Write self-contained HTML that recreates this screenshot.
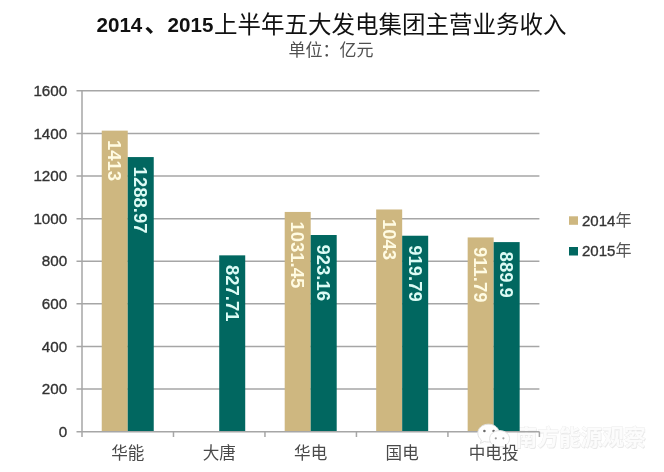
<!DOCTYPE html>
<html><head><meta charset="utf-8">
<style>
html,body{margin:0;padding:0;background:#fff;}
body{width:664px;height:472px;overflow:hidden;position:relative;}
svg{position:absolute;left:0;top:0;filter:blur(0.5px);}
.num{font-family:"Liberation Sans",sans-serif;}
.cjk{font-family:"Liberation Sans","Noto Sans CJK SC",sans-serif;}
</style></head>
<body>
<svg width="664" height="472" viewBox="0 0 664 472">
  <!-- title -->
  <text x="96.5" y="32.4" class="num" font-weight="bold" font-size="20.6" fill="#111">2014</text>
  <text x="144.5" y="32.4" class="cjk" font-size="23.5" font-weight="bold" fill="#111">、</text>
  <text x="167.6" y="32.4" class="num" font-weight="bold" font-size="20.6" fill="#111">2015</text>
  <text x="214" y="32.5" class="cjk" font-size="23.5" font-weight="400" fill="#111">上半年五大发电集团主营业务收入</text>
  <text x="288.5" y="55.8" class="cjk" font-size="17" fill="#505050">单位：亿元</text>

  <!-- gridlines -->
  <g stroke="#a6a6a6" stroke-width="1.5">
    <line x1="76.5" y1="90.8" x2="539.4" y2="90.8"/>
    <line x1="76.5" y1="133.41" x2="539.4" y2="133.41"/>
    <line x1="76.5" y1="176.03" x2="539.4" y2="176.03"/>
    <line x1="76.5" y1="218.64" x2="539.4" y2="218.64"/>
    <line x1="76.5" y1="261.25" x2="539.4" y2="261.25"/>
    <line x1="76.5" y1="303.86" x2="539.4" y2="303.86"/>
    <line x1="76.5" y1="346.48" x2="539.4" y2="346.48"/>
    <line x1="76.5" y1="389.09" x2="539.4" y2="389.09"/>
  </g>

  <g class="cjk" font-size="21.7" font-weight="bold" opacity="0.85">
    <text x="516.2" y="445.6" fill="#e4e4e4">南方能源观察</text>
    <text x="515.5" y="445" fill="#fcfcfc" stroke="#e8e8e8" stroke-width="0.8" paint-order="stroke">南方能源观察</text>
  </g>
  <!-- bars -->
  <g fill="#ceb780">
    <rect x="101.74" y="130.64" width="26" height="301.06"/>
    <rect x="284.7" y="211.94" width="26" height="219.76"/>
    <rect x="376.18" y="209.48" width="26" height="222.22"/>
    <rect x="467.66" y="237.43" width="26" height="194.27"/>
  </g>
  <g fill="#016760">
    <rect x="127.74" y="157.07" width="26" height="274.63"/>
    <rect x="219.22" y="255.35" width="26" height="176.35"/>
    <rect x="310.7" y="235.01" width="26" height="196.69"/>
    <rect x="402.18" y="235.73" width="26" height="195.97"/>
    <rect x="493.66" y="242.10" width="26" height="189.6"/>
  </g>

  <!-- axes -->
  <g stroke="#a6a6a6" stroke-width="1.5">
    <line x1="76.5" y1="431.7" x2="539.4" y2="431.7"/>
    <line x1="82" y1="90.8" x2="82" y2="437"/>
    <line x1="173.48" y1="431.7" x2="173.48" y2="437"/>
    <line x1="264.96" y1="431.7" x2="264.96" y2="437"/>
    <line x1="356.44" y1="431.7" x2="356.44" y2="437"/>
    <line x1="447.92" y1="431.7" x2="447.92" y2="437"/>
    <line x1="539.4" y1="431.7" x2="539.4" y2="437"/>
  </g>

  <!-- y labels -->
  <g class="num" font-size="15.2" fill="#333" stroke="#333" stroke-width="0.35" text-anchor="end">
    <text x="67.2" y="96">1600</text>
    <text x="67.2" y="138.6">1400</text>
    <text x="67.2" y="181.2">1200</text>
    <text x="67.2" y="223.8">1000</text>
    <text x="67.2" y="266.4">800</text>
    <text x="67.2" y="309">600</text>
    <text x="67.2" y="351.7">400</text>
    <text x="67.2" y="394.3">200</text>
    <text x="67.2" y="436.9">0</text>
  </g>

  <!-- bar labels -->
  <g class="num" font-weight="bold" font-size="18.5">
    <g fill="#fffbe2">
      <text transform="translate(108.3,140) rotate(90)">1413</text>
      <text transform="translate(291.3,221.4) rotate(90)">1031.45</text>
      <text transform="translate(382.7,219) rotate(90)">1043</text>
      <text transform="translate(474.2,247) rotate(90)">911.79</text>
    </g>
    <g fill="#dcfbf5">
      <text transform="translate(134.3,166.6) rotate(90)">1288.97</text>
      <text transform="translate(225.8,264.9) rotate(90)">827.71</text>
      <text transform="translate(317.2,244.5) rotate(90)">923.16</text>
      <text transform="translate(408.7,245.2) rotate(90)">919.79</text>
      <text transform="translate(500.2,251.6) rotate(90)">889.9</text>
    </g>
  </g>

  <!-- legend -->
  <rect x="569" y="216.3" width="9" height="8.5" fill="#ceb780"/>
  <rect x="569" y="247" width="9" height="8.5" fill="#016760"/>
  <g font-size="15" fill="#333">
    <text x="582" y="225.5"><tspan class="num" stroke="#333" stroke-width="0.35">2014</tspan><tspan class="cjk" font-size="16" fill="#555">年</tspan></text>
    <text x="582" y="256"><tspan class="num" stroke="#333" stroke-width="0.35">2015</tspan><tspan class="cjk" font-size="16" fill="#555">年</tspan></text>
  </g>

  <!-- watermark -->
  <g>
    <path d="M488.5,424.2 C482.3,424.2 477.8,428.2 477.8,433.2 C477.8,436 479.2,438.4 481.4,440 L480.4,443.4 L484.4,441.5 C485.7,441.9 487.1,442.1 488.5,442.1 C494.7,442.1 499.2,438.1 499.2,433.2 C499.2,428.2 494.7,424.2 488.5,424.2 Z" fill="#fff" stroke="#e2e2e2" stroke-width="1"/>
    <circle cx="484.4" cy="431" r="1.3" fill="#6a6a6a"/>
    <circle cx="493.6" cy="431" r="1.3" fill="#6a6a6a"/>
    <path d="M499.6,430.6 C493.9,430.6 489.6,434.3 489.6,438.8 C489.6,443.3 493.9,447 499.6,447 C500.8,447 502,446.8 503.1,446.5 L506.6,448.3 L505.8,445.3 C508,443.8 509.6,441.5 509.6,438.8 C509.6,434.3 505.3,430.6 499.6,430.6 Z" fill="#fff" stroke="#e2e2e2" stroke-width="1"/>
    <circle cx="495.8" cy="438.3" r="1.1" fill="#a0a0a0"/>
    <circle cx="503.4" cy="438.3" r="1.1" fill="#a0a0a0"/>
  </g>
  <!-- category labels -->
  <g class="cjk" font-size="16.6" fill="#4a4a4a" text-anchor="middle">
    <text x="127.74" y="459">华能</text>
    <text x="219.22" y="459">大唐</text>
    <text x="310.7" y="459">华电</text>
    <text x="402.18" y="459">国电</text>
    <text x="493.66" y="459">中电投</text>
  </g>

</svg>
</body></html>
